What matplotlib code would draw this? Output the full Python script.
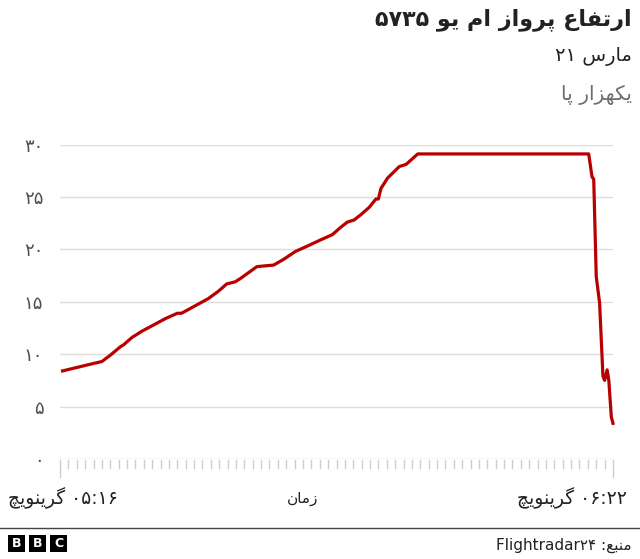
import re
import matplotlib
matplotlib.use("Agg")
import matplotlib.pyplot as plt
import matplotlib.transforms as mtransforms
from matplotlib.patches import Rectangle

# flight MU5735, 21 March; altitude in thousand feet, time in minutes after 05:16 GMT
minutes_after_0516 = [0.3, 3.4, 5.0, 6.0, 7.2, 7.6, 8.6, 9.8, 11.2, 12.6, 14.0, 14.5,
                      16.1, 17.7, 18.9, 19.9, 20.9, 21.5, 23.5, 25.5, 26.7, 28.1, 29.5,
                      31.1, 32.5, 33.5, 34.3, 35.1, 35.9, 36.9, 37.7, 38.0, 38.3, 39.1,
                      40.5, 41.3, 42.7, 63.1, 63.5, 63.7, 64.0, 64.4, 64.8, 65.0, 65.3,
                      65.5, 65.8, 66.0]
altitude_k_ft = [8.4, 9.0, 9.3, 9.9, 10.7, 10.9, 11.6, 12.2, 12.8, 13.4, 13.9, 13.9,
                 14.6, 15.3, 16.0, 16.7, 16.9, 17.2, 18.35, 18.5, 19.05, 19.8, 20.3,
                 20.9, 21.4, 22.1, 22.6, 22.8, 23.3, 24.0, 24.8, 24.8, 25.8, 26.8,
                 27.9, 28.1, 29.1, 29.1, 26.9, 26.7, 17.4, 14.9, 7.9, 7.5, 8.5,
                 7.5, 4.0, 3.4]

y_ticks = [0, 5, 10, 15, 20, 25, 30]
y_tick_labels = ["۰", "۵", "۱۰", "۱۵", "۲۰", "۲۵", "۳۰"]
x_range = [0, 66]

title = "ارتفاع پرواز ام یو ۵۷۳۵"
subtitle = "۲۱ مارس"
unit_label = "یکهزار پا"
x_start_label = "۰۵:۱۶ گرینویچ"
x_end_label = "۰۶:۲۲ گرینویچ"
x_axis_label = "زمان"
source = "منبع: Flightradar۲۴"

# --- minimal arabic shaping / bidi, matplotlib 3.10 draws glyphs one by one ---
FORMS = {  # isolated, final, initial, medial
    "ا": (0xFE8D, 0xFE8E), "د": (0xFEA9, 0xFEAA), "ذ": (0xFEAB, 0xFEAC),
    "ر": (0xFEAD, 0xFEAE), "ز": (0xFEAF, 0xFEB0), "ژ": (0xFB8A, 0xFB8B),
    "و": (0xFEED, 0xFEEE),
    "ب": (0xFE8F, 0xFE90, 0xFE91, 0xFE92), "پ": (0xFB56, 0xFB57, 0xFB58, 0xFB59),
    "ت": (0xFE95, 0xFE96, 0xFE97, 0xFE98), "چ": (0xFB7A, 0xFB7B, 0xFB7C, 0xFB7D),
    "س": (0xFEB1, 0xFEB2, 0xFEB3, 0xFEB4), "ع": (0xFEC9, 0xFECA, 0xFECB, 0xFECC),
    "ف": (0xFED1, 0xFED2, 0xFED3, 0xFED4), "ک": (0xFB8E, 0xFB8F, 0xFB90, 0xFB91),
    "گ": (0xFB92, 0xFB93, 0xFB94, 0xFB95), "ل": (0xFEDD, 0xFEDE, 0xFEDF, 0xFEE0),
    "م": (0xFEE1, 0xFEE2, 0xFEE3, 0xFEE4), "ن": (0xFEE5, 0xFEE6, 0xFEE7, 0xFEE8),
    "ه": (0xFEE9, 0xFEEA, 0xFEEB, 0xFEEC), "ی": (0xFBFC, 0xFBFD, 0xFBFE, 0xFBFF),
}


def shape_word(w):
    out = []
    for i, c in enumerate(w):
        f = FORMS.get(c)
        if f is None:
            out.append(c)
            continue
        prev = w[i - 1] if i > 0 else ""
        nxt = w[i + 1] if i + 1 < len(w) else ""
        join_prev = prev in FORMS and len(FORMS[prev]) == 4
        join_next = len(f) == 4 and nxt in FORMS
        if join_prev and join_next:
            out.append(chr(f[3]))
        elif join_prev:
            out.append(chr(f[1]))
        elif join_next:
            out.append(chr(f[2]))
        else:
            out.append(chr(f[0]))
    return "".join(out)[::-1]


def fa(s, rtl=True):
    tokens = re.findall(r"[\u0600-\u06EF]+|[A-Za-z0-9\u06F0-\u06F9][A-Za-z0-9\u06F0-\u06F9:]*|.", s)
    tokens = [shape_word(t) if re.match(r"[\u0600-\u06EF]", t) else t for t in tokens]
    if rtl:
        tokens = tokens[::-1]
    return "".join(tokens)


plt.rcParams["font.family"] = ["DejaVu Sans"]

W, H = 640, 559
fig = plt.figure(figsize=(W / 100, H / 100), dpi=100)

def fx(px):
    return px / W

def fy(py):
    return 1 - py / H

ax = fig.add_axes([fx(60), fy(459), fx(613) - fx(60), fy(144.5) - fy(459)])
ax.set_xlim(x_range)
ax.set_ylim(0, 30)

for v in y_ticks[1:]:
    ax.axhline(v, color="#dddddd", lw=1, zorder=1)
ax.axhline(0, color="#cccccc", lw=1, zorder=1)

ax.plot(minutes_after_0516, altitude_k_ft, color="#b80000", lw=2.3,
        solid_joinstyle="round", zorder=3, clip_on=False)

for s in ax.spines.values():
    s.set_visible(False)
ax.set_xticks([])
ax.set_yticks(y_ticks)
ax.set_yticklabels(y_tick_labels, fontsize=13, color="#505050")
ax.tick_params(axis="y", length=0, pad=12)

# minute ticks under the axis
trans = mtransforms.blended_transform_factory(ax.transData, ax.transAxes)
for m in range(x_range[0], x_range[1] + 1):
    long_tick = m in x_range
    ax.plot([m, m], [-0.004, -0.058 if long_tick else -0.03], transform=trans,
            color="#cccccc", lw=1, clip_on=False)

fig.text(fx(632), fy(20), fa(title), ha="right", va="center", fontsize=16,
         fontweight="bold", color="#222222")
fig.text(fx(632), fy(57), fa(subtitle, rtl=False), ha="right", va="center",
         fontsize=14, color="#222222")
fig.text(fx(632), fy(95), fa(unit_label), ha="right", va="center",
         fontsize=14.5, color="#6e6e6e")

fig.text(fx(8), fy(498), fa(x_start_label), ha="left", va="center",
         fontsize=13.5, color="#222222")
fig.text(fx(303), fy(498), fa(x_axis_label), ha="center", va="center",
         fontsize=11, color="#222222")
fig.text(fx(627), fy(498), fa(x_end_label), ha="right", va="center",
         fontsize=13.5, color="#222222")

fig.add_artist(plt.Line2D([0, 1], [fy(528), fy(528)], color="#444444", lw=1))
for i, letter in enumerate("BBC"):
    x0 = 8 + i * 21
    fig.add_artist(Rectangle((fx(x0), fy(552)), fx(17), 17 / H,
                             facecolor="black", edgecolor="none"))
    fig.text(fx(x0 + 8.5), fy(543.5), letter, ha="center", va="center",
             fontsize=9, fontweight="bold", color="white")
fig.text(fx(632), fy(545), fa(source), ha="right", va="center",
         fontsize=11, color="#222222")

fig.savefig("out.png", dpi=100)
